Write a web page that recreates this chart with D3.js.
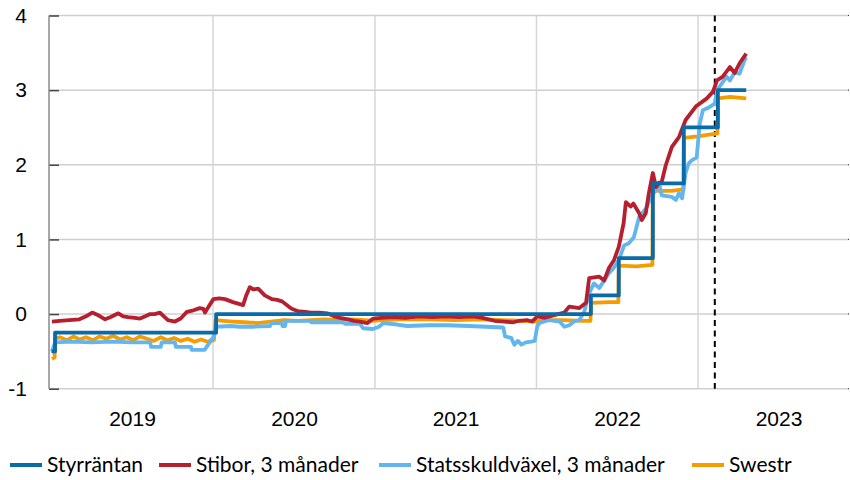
<!DOCTYPE html>
<html>
<head>
<meta charset="utf-8">
<script src="https://cdn.jsdelivr.net/npm/d3@7"></script>
<style>
  body { margin: 0; background: #fff; }
  svg { display: block; font-family: Lato, "Liberation Sans", sans-serif; }
  .tick text { font-size: 21px; fill: #000; }
</style>
</head>
<body>
<svg id="chart" width="850" height="480"></svg>
<script>
// policy rate, step changes
const styrrantan = [
  ["2019-01-01", -0.50], ["2019-01-09", -0.25], ["2020-01-08", 0], ["2022-05-04", 0.25],
  ["2022-07-06", 0.75], ["2022-09-21", 1.75], ["2022-11-30", 2.5], ["2023-02-15", 3.0],
  ["2023-04-20", 3.0]
];

const stibor = [
  ["2019-01-02", -0.10], ["2019-01-20", -0.09], ["2019-02-10", -0.08], ["2019-03-05", -0.07],
  ["2019-03-20", -0.03], ["2019-04-03", 0.02], ["2019-04-18", -0.02], ["2019-05-02", -0.07],
  ["2019-05-15", -0.04], ["2019-06-01", 0.01], ["2019-06-12", -0.03], ["2019-06-23", -0.04],
  ["2019-07-08", -0.05], ["2019-07-20", -0.06], ["2019-08-01", -0.03], ["2019-08-12", 0.00],
  ["2019-08-22", 0.00], ["2019-09-03", 0.02], ["2019-09-12", -0.03], ["2019-09-21", -0.08],
  ["2019-10-07", -0.10], ["2019-10-20", -0.06], ["2019-11-03", 0.03], ["2019-11-18", 0.05],
  ["2019-12-02", 0.08], ["2019-12-10", 0.07], ["2019-12-14", 0.02], ["2019-12-22", 0.10],
  ["2020-01-02", 0.20], ["2020-01-15", 0.21], ["2020-01-28", 0.20], ["2020-02-15", 0.16],
  ["2020-03-09", 0.12], ["2020-03-16", 0.25], ["2020-03-24", 0.36], ["2020-04-01", 0.33],
  ["2020-04-12", 0.34], ["2020-04-27", 0.25], ["2020-05-13", 0.20], ["2020-05-25", 0.19],
  ["2020-06-05", 0.17], ["2020-06-20", 0.10], ["2020-06-27", 0.07], ["2020-07-10", 0.04],
  ["2020-07-27", 0.03], ["2020-08-10", 0.02], ["2020-08-29", 0.02], ["2020-09-15", 0.01],
  ["2020-10-01", -0.03], ["2020-10-14", -0.05], ["2020-11-01", -0.07], ["2020-11-15", -0.09],
  ["2020-11-28", -0.10], ["2020-12-15", -0.12], ["2020-12-28", -0.06], ["2021-01-15", -0.05],
  ["2021-02-10", -0.04], ["2021-03-10", -0.05], ["2021-04-10", -0.03], ["2021-05-10", -0.04],
  ["2021-06-10", -0.03], ["2021-07-10", -0.04], ["2021-08-10", -0.03], ["2021-09-01", -0.05],
  ["2021-09-28", -0.09], ["2021-10-20", -0.10], ["2021-11-10", -0.11], ["2021-11-23", -0.09],
  ["2021-12-10", -0.08], ["2021-12-22", -0.10], ["2022-01-03", -0.03], ["2022-01-20", -0.05],
  ["2022-02-12", -0.01], ["2022-03-05", 0.02], ["2022-03-16", 0.10], ["2022-04-08", 0.08],
  ["2022-04-23", 0.15], ["2022-04-30", 0.48], ["2022-05-23", 0.50], ["2022-06-03", 0.45],
  ["2022-06-14", 0.62], ["2022-06-25", 0.72], ["2022-07-06", 0.90], ["2022-07-17", 1.22],
  ["2022-07-22", 1.50], ["2022-08-02", 1.44], ["2022-08-08", 1.48], ["2022-08-21", 1.35],
  ["2022-08-27", 1.26], ["2022-09-05", 1.35], ["2022-09-12", 1.62], ["2022-09-21", 1.89],
  ["2022-09-28", 1.70], ["2022-10-05", 1.76], ["2022-10-11", 1.77], ["2022-10-20", 1.99],
  ["2022-11-03", 2.24], ["2022-11-19", 2.37], ["2022-12-04", 2.60], ["2022-12-27", 2.78],
  ["2023-01-21", 2.89], ["2023-02-04", 2.98], ["2023-02-13", 3.13], ["2023-02-26", 3.18],
  ["2023-03-14", 3.31], ["2023-03-25", 3.23], ["2023-04-05", 3.36], ["2023-04-20", 3.49]
];

const statsskuld = [
  ["2019-01-02", -0.50], ["2019-01-09", -0.38], ["2019-02-15", -0.37], ["2019-04-01", -0.38],
  ["2019-05-20", -0.37], ["2019-07-01", -0.38], ["2019-08-12", -0.38], ["2019-08-14", -0.44],
  ["2019-09-05", -0.44], ["2019-09-07", -0.38], ["2019-10-07", -0.38], ["2019-10-09", -0.44],
  ["2019-11-12", -0.44], ["2019-11-14", -0.48], ["2019-12-13", -0.48], ["2019-12-20", -0.42],
  ["2019-12-28", -0.35], ["2020-01-03", -0.30], ["2020-01-08", -0.17], ["2020-02-10", -0.16],
  ["2020-03-01", -0.17], ["2020-04-01", -0.17], ["2020-05-09", -0.16], ["2020-05-12", -0.12],
  ["2020-06-04", -0.12], ["2020-06-06", -0.16], ["2020-06-12", -0.16], ["2020-06-14", -0.09],
  ["2020-08-07", -0.09], ["2020-08-10", -0.11], ["2020-10-20", -0.11], ["2020-10-25", -0.13],
  ["2020-11-28", -0.13], ["2020-12-05", -0.19], ["2020-12-27", -0.20], ["2021-01-10", -0.17],
  ["2021-01-20", -0.12], ["2021-02-20", -0.14], ["2021-03-15", -0.16], ["2021-05-01", -0.15],
  ["2021-06-15", -0.15], ["2021-08-01", -0.16], ["2021-09-10", -0.17], ["2021-10-18", -0.18],
  ["2021-10-22", -0.30], ["2021-11-05", -0.32], ["2021-11-12", -0.41], ["2021-11-20", -0.36],
  ["2021-11-28", -0.41], ["2021-12-08", -0.38], ["2021-12-20", -0.37], ["2021-12-28", -0.36],
  ["2022-01-03", -0.16], ["2022-01-08", -0.12], ["2022-01-30", -0.08], ["2022-02-22", -0.10],
  ["2022-03-05", -0.17], ["2022-03-16", -0.15], ["2022-03-27", -0.10], ["2022-04-08", -0.08],
  ["2022-04-19", 0.03], ["2022-04-30", 0.28], ["2022-05-11", 0.41], ["2022-05-23", 0.35],
  ["2022-06-03", 0.45], ["2022-06-14", 0.55], ["2022-06-25", 0.62], ["2022-07-06", 0.72],
  ["2022-07-18", 0.92], ["2022-07-29", 0.95], ["2022-08-09", 1.03], ["2022-08-21", 1.30],
  ["2022-09-06", 1.42], ["2022-09-17", 1.57], ["2022-09-28", 1.66], ["2022-10-05", 1.75],
  ["2022-10-11", 1.59], ["2022-11-03", 1.57], ["2022-11-12", 1.53], ["2022-11-19", 1.62],
  ["2022-11-26", 1.55], ["2022-12-04", 1.89], ["2022-12-11", 2.02], ["2022-12-18", 2.06],
  ["2022-12-29", 2.10], ["2023-01-05", 2.55], ["2023-01-12", 2.73], ["2023-01-23", 2.76],
  ["2023-02-08", 2.82], ["2023-02-13", 3.00], ["2023-02-24", 3.09], ["2023-03-07", 3.18],
  ["2023-03-14", 3.13], ["2023-03-25", 3.24], ["2023-04-05", 3.22], ["2023-04-16", 3.40],
  ["2023-04-20", 3.44]
];

const swestr = [
  ["2019-01-02", -0.60], ["2019-01-08", -0.58], ["2019-01-09", -0.33], ["2019-01-20", -0.31],
  ["2019-02-05", -0.35], ["2019-02-20", -0.30], ["2019-03-05", -0.34], ["2019-03-20", -0.31],
  ["2019-04-05", -0.35], ["2019-04-20", -0.30], ["2019-05-05", -0.33], ["2019-05-20", -0.29],
  ["2019-06-05", -0.34], ["2019-06-20", -0.31], ["2019-07-05", -0.35], ["2019-07-20", -0.30],
  ["2019-08-05", -0.33], ["2019-08-20", -0.36], ["2019-09-05", -0.31], ["2019-09-20", -0.35],
  ["2019-10-05", -0.32], ["2019-10-20", -0.36], ["2019-11-05", -0.33], ["2019-11-20", -0.37],
  ["2019-12-05", -0.34], ["2019-12-20", -0.37], ["2020-01-03", -0.35], ["2020-01-07", -0.08],
  ["2020-01-25", -0.09], ["2020-02-15", -0.10], ["2020-03-10", -0.11], ["2020-04-10", -0.12],
  ["2020-05-10", -0.10], ["2020-06-10", -0.08], ["2020-07-10", -0.09], ["2020-08-10", -0.08],
  ["2020-09-10", -0.07], ["2020-10-10", -0.08], ["2020-11-10", -0.07], ["2020-12-10", -0.08],
  ["2020-12-28", -0.09], ["2021-01-15", -0.08], ["2021-03-01", -0.07], ["2021-05-01", -0.07],
  ["2021-07-01", -0.08], ["2021-09-01", -0.07], ["2021-10-15", -0.08], ["2021-12-01", -0.09],
  ["2021-12-30", -0.10], ["2022-01-15", -0.08], ["2022-03-01", -0.08], ["2022-04-15", -0.09],
  ["2022-05-03", -0.09], ["2022-05-04", 0.15], ["2022-06-15", 0.16], ["2022-07-05", 0.16],
  ["2022-07-06", 0.65], ["2022-08-15", 0.64], ["2022-09-20", 0.66], ["2022-09-21", 1.65],
  ["2022-11-01", 1.65], ["2022-11-29", 1.67], ["2022-11-30", 2.36], ["2022-12-31", 2.38],
  ["2023-02-14", 2.42], ["2023-02-15", 2.89], ["2023-03-15", 2.91], ["2023-04-20", 2.89]
];

const yearLabels = ["2019", "2020", "2021", "2022", "2023"];
const yTicks = [-1, 0, 1, 2, 3, 4];
const markerDate = "2023-02-08";

const seriesNames = ["Styrräntan", "Stibor, 3 månader", "Statsskuldväxel, 3 månader", "Swestr"];
const seriesColors = ["#0b6aa8", "#b51f2e", "#62b5ee", "#f59d00"];

const parse = d3.timeParse("%Y-%m-%d");
const svg = d3.select("#chart");

const plotLeft = 49, plotRight = 849, plotTop = 15.5, plotBottom = 388.7;

const x = d3.scaleTime()
  .domain([parse("2019-01-01"), parse("2024-01-01")])
  .range([51.5, 859.5]);
const y = d3.scaleLinear().domain([-1, 4]).range([plotBottom, plotTop]);

// grid
svg.append("g")
  .selectAll("line")
  .data(yTicks)
  .join("line")
  .attr("x1", plotLeft).attr("x2", plotRight)
  .attr("y1", (d) => y(d)).attr("y2", (d) => y(d))
  .attr("stroke", "#cfcfcf")
  .attr("stroke-width", 1.5);

svg.append("g")
  .selectAll("line")
  .data(yearLabels.slice(1))
  .join("line")
  .attr("x1", (d) => x(parse(d + "-01-01"))).attr("x2", (d) => x(parse(d + "-01-01")))
  .attr("y1", plotTop).attr("y2", plotBottom)
  .attr("stroke", "#d6d6d6")
  .attr("stroke-width", 1.5);

// right edge tick marks
svg.append("g")
  .selectAll("line")
  .data(yTicks)
  .join("line")
  .attr("x1", plotRight - 1).attr("x2", plotRight)
  .attr("y1", (d) => y(d)).attr("y2", (d) => y(d))
  .attr("stroke", "#333");

// y axis
const yAxis = svg.append("g")
  .attr("transform", `translate(${plotLeft},0)`)
  .call(d3.axisLeft(y).tickValues(yTicks).tickSize(-10).tickPadding(22).tickFormat((d) => String(d)));
yAxis.select(".domain").remove();
yAxis.selectAll(".tick line").attr("stroke", "#444").attr("stroke-width", 1.5);
yAxis.append("line")
  .attr("y1", plotTop).attr("y2", plotBottom)
  .attr("stroke", "#8a8a8a").attr("stroke-width", 1.5);

// year labels
const xAxis = svg.append("g")
  .attr("transform", `translate(0,${plotBottom})`)
  .call(d3.axisBottom(x)
    .tickValues(yearLabels.map((d) => parse(d + "-07-02")))
    .tickSize(0).tickPadding(22)
    .tickFormat(d3.timeFormat("%Y")));
xAxis.select(".domain").remove();

// marker line
svg.append("line")
  .attr("x1", x(parse(markerDate))).attr("x2", x(parse(markerDate)))
  .attr("y1", plotTop).attr("y2", plotBottom)
  .attr("stroke", "#000")
  .attr("stroke-width", 2)
  .attr("stroke-dasharray", "6,4.5");

// series
const line = d3.line()
  .x((d) => x(parse(d[0])))
  .y((d) => y(d[1]));
const stepLine = d3.line()
  .curve(d3.curveStepAfter)
  .x((d) => x(parse(d[0])))
  .y((d) => y(d[1]));

const plots = [
  { data: swestr, color: seriesColors[3], gen: line },
  { data: statsskuld, color: seriesColors[2], gen: line },
  { data: stibor, color: seriesColors[1], gen: line },
  { data: styrrantan, color: seriesColors[0], gen: stepLine }
];

svg.append("g")
  .selectAll("path")
  .data(plots)
  .join("path")
  .attr("d", (d) => d.gen(d.data))
  .attr("fill", "none")
  .attr("stroke", (d) => d.color)
  .attr("stroke-width", 3.8)
  .attr("stroke-linejoin", "round");

// legend
const legendSwatchX = [10, 159, 379, 692];
const legend = svg.append("g")
  .selectAll("g")
  .data(seriesNames)
  .join("g")
  .attr("transform", (d, i) => `translate(${legendSwatchX[i]},465)`);
legend.append("line")
  .attr("x1", 0).attr("x2", 32)
  .attr("stroke", (d, i) => seriesColors[i])
  .attr("stroke-width", 4);
legend.append("text")
  .attr("x", 37)
  .attr("dy", "0.35em")
  .attr("font-size", 21)
  .text((d) => d);
</script>
</body>
</html>
